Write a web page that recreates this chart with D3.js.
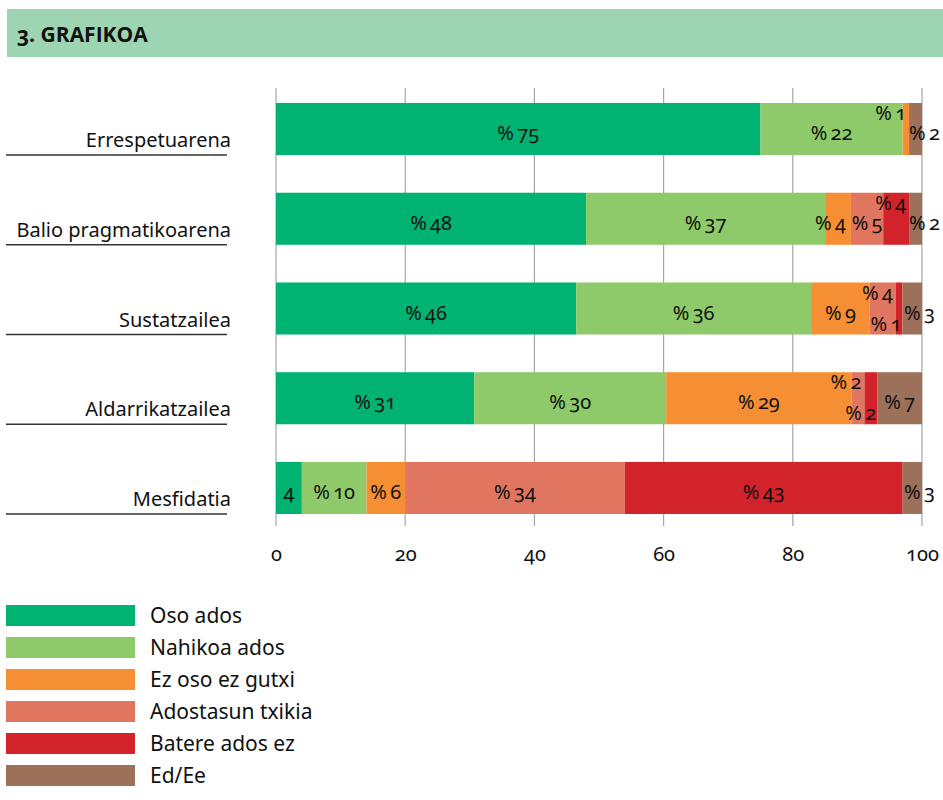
<!DOCTYPE html>
<html>
<head>
<meta charset="utf-8">
<script src="https://d3js.org/d3.v7.min.js"></script>
<style>
  body { margin: 0; background: #fff; }
  svg text { font-family: "Noto Sans", "Open Sans", sans-serif; font-variant-numeric: oldstyle-nums; }
</style>
</head>
<body>
<div id="chart"></div>
<script>
// data
const categories = ['Errespetuarena', 'Balio pragmatikoarena', 'Sustatzailea', 'Aldarrikatzailea', 'Mesfidatia'];
const seriesNames = ['Oso ados', 'Nahikoa ados', 'Ez oso ez gutxi', 'Adostasun txikia', 'Batere ados ez', 'Ed/Ee'];
const osoAdos       = [75, 48, 46, 31, 4];
const nahikoaAdos   = [22, 37, 36, 30, 10];
const ezOsoEzGutxi  = [1, 4, 9, 29, 6];
const adostasunTx   = [0, 5, 4, 2, 34];
const batereAdosEz  = [0, 4, 1, 2, 43];
const edEe          = [2, 2, 3, 7, 3];
const tickValues = [0, 20, 40, 60, 80, 100];

const seriesValues = [osoAdos, nahikoaAdos, ezOsoEzGutxi, adostasunTx, batereAdosEz, edEe];
const colors = ['#00b373', '#8fca6a', '#f68f33', '#e0765f', '#d2232b', '#9d705a'];

// where each value label goes: c = centred, n = number only, t = top, b = bottom,
// m = middle pushed left, r = past the end of the bar
const labelSpots = [
  ['c', 'c', 't', '-', '-', 'r'],
  ['c', 'c', 'm', 'c', 't', 'r'],
  ['c', 'c', 'c', 't', 'b', 'r'],
  ['c', 'c', 'c', 't', 'b', 'c'],
  ['n', 'c', 'c', 'c', 'c', 'r']
];

const width = 943, height = 800;
const svg = d3.select('#chart').append('svg')
    .attr('width', width)
    .attr('height', height);

// header band
svg.append('rect')
    .attr('x', 7).attr('y', 9)
    .attr('width', width - 7).attr('height', 48)
    .attr('fill', '#9dd4b1');
svg.append('text')
    .attr('x', 17).attr('y', 42)
    .style('font-family', '"Open Sans", "Noto Sans", sans-serif')
    .style('font-weight', 'bold')
    .style('font-size', '21px')
    .attr('fill', '#111')
    .text('3. GRAFIKOA');

const x = d3.scaleLinear().domain([0, 100]).range([276, 922]);
const y = d3.scaleBand().domain(categories).range([103, 514]).paddingInner(0.42).paddingOuter(0);

// gridlines
svg.append('g').selectAll('line')
    .data(tickValues)
    .enter().append('line')
    .attr('x1', d => x(d)).attr('x2', d => x(d))
    .attr('y1', 88).attr('y2', 526)
    .attr('stroke', '#a6a6a6')
    .attr('stroke-width', 1.2);

// tick labels
const xAxis = d3.axisBottom(x).tickValues(tickValues).tickSize(0).tickPadding(0);
const axisG = svg.append('g')
    .attr('transform', 'translate(0,547)')
    .call(xAxis);
axisG.select('.domain').remove();
axisG.selectAll('text')
    .style('font-size', '20px')
    .attr('fill', '#111')
    .attr('dy', '0.72em');

// build rows with running totals, scaled so each bar reaches 100
const rows = categories.map(function(name, i) {
  const vals = seriesValues.map(s => s[i]);
  const total = d3.sum(vals);
  var acc = 0;
  const segs = vals.map(function(v, j) {
    const seg = { row: i, series: j, value: v, x0: acc / total * 100 };
    acc += v;
    seg.x1 = acc / total * 100;
    return seg;
  });
  return { name: name, segs: segs };
});

const rowG = svg.append('g').selectAll('g')
    .data(rows)
    .enter().append('g');

rowG.selectAll('rect')
    .data(d => d.segs.filter(s => s.value > 0))
    .enter().append('rect')
    .attr('x', d => x(d.x0))
    .attr('y', d => y(categories[d.row]))
    .attr('width', d => x(d.x1) - x(d.x0))
    .attr('height', y.bandwidth())
    .attr('fill', d => colors[d.series]);

// value labels
rowG.selectAll('text.val')
    .data(d => d.segs.filter(s => s.value > 0))
    .enter().append('text')
    .classed('val', true)
    .style('font-size', '20px')
    .attr('fill', '#111')
    .attr('dy', '0.35em')
    .each(function(d) {
      const spot = labelSpots[d.row][d.series];
      const mid = y(categories[d.row]) + y.bandwidth() / 2;
      const t = d3.select(this);
      var tx = (x(d.x0) + x(d.x1)) / 2, ty = mid + 4, anchor = 'middle';
      if (spot === 't') { tx = x(d.x1) - 3; ty = mid - 16; anchor = 'end'; }
      if (spot === 'b') { tx = x(d.x1) - 1; ty = mid + 15; anchor = 'end'; }
      if (spot === 'm') { tx = x(d.x1) - 5; anchor = 'end'; }
      if (spot === 'r') { tx = Math.max(x(d.x0), 904); ty = mid + 4; anchor = 'start'; }
      t.attr('x', tx).attr('y', ty).attr('text-anchor', anchor)
        .text(spot === 'n' ? String(d.value) : '%\u2009' + d.value);
    });

// category labels and their underlines
rowG.append('text')
    .attr('x', 231)
    .attr('y', d => y(d.name) + y.bandwidth() - 8)
    .attr('text-anchor', 'end')
    .style('font-size', '20px')
    .attr('fill', '#111')
    .text(d => d.name);

rowG.append('line')
    .attr('x1', 6).attr('x2', 227)
    .attr('y1', d => y(d.name) + y.bandwidth())
    .attr('y2', d => y(d.name) + y.bandwidth())
    .attr('stroke', '#333')
    .attr('stroke-width', 1.4);

// legend
const legend = svg.append('g').selectAll('g')
    .data(seriesNames)
    .enter().append('g')
    .attr('transform', (d, i) => 'translate(6,' + (605 + i * 32) + ')');

legend.append('rect')
    .attr('width', 129).attr('height', 21)
    .attr('fill', (d, i) => colors[i]);

legend.append('text')
    .attr('x', 144).attr('y', 11)
    .attr('dy', '0.35em')
    .style('font-size', '21px')
    .attr('fill', '#111')
    .text(d => d);
</script>
</body>
</html>
